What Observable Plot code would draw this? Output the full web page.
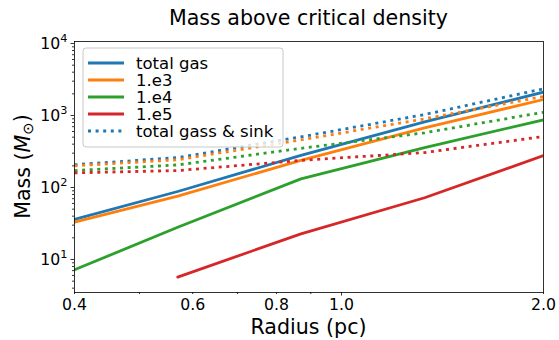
<!DOCTYPE html>
<html><head><meta charset="utf-8">
<script src="https://cdn.jsdelivr.net/npm/d3@7"></script>
<script src="https://cdn.jsdelivr.net/npm/@observablehq/plot@0.6"></script>
<style>body{margin:0;background:#fff} svg{font-family:"DejaVu Sans",sans-serif}</style>
</head><body><div id="chart"></div>
<script>
// ---- data ----
const radius = [0.4, 0.57, 0.87, 1.33, 2.0];
const totalGas = [36, 88, 280, 815, 2110];
const gas1e3 = [33, 76, 238, 675, 1670];
const gas1e4 = [7.2, 28, 132, 359, 870];
const gas1e5 = [null, 5.7, 22.7, 72, 278];
const totalGasSink = [207, 261, 505, 1032, 2350];
const gas1e3Sink = [200, 243, 459, 899, 1840];
const gas1e4Sink = [172, 206, 350, 575, 1110];
const gas1e5Sink = [160, 172, 238, 306, 511];
const seriesNames = ["total gas", "1.e3", "1.e4", "1.e5"];
const seriesColors = ["#1f77b4", "#ff7f0e", "#2ca02c", "#d62728"];
const legendLabels = ["total gas", "1.e3", "1.e4", "1.e5", "total gass & sink"];
const xTickLabels = [0.4, 0.6, 0.8, 1.0, 2.0];
const xMinorTicks = [0.4, 0.5, 0.6, 0.7, 0.8, 0.9, 2.0];
const xMajorTicks = [1.0];
const yMajorTicks = [10, 100, 1000, 10000];
const yMinorTicks = [4,5,6,7,8,9,20,30,40,50,60,70,80,90,200,300,400,500,600,700,800,900,2000,3000,4000,5000,6000,7000,8000,9000];
const titleText = "Mass above critical density";
const xLabelText = "Radius (pc)";

const gasSeries = [totalGas, gas1e3, gas1e4, gas1e5];
const sinkSeries = [totalGasSink, gas1e3Sink, gas1e4Sink, gas1e5Sink];
const gasRows = [], sinkRows = [];
gasSeries.forEach((arr, i) => arr.forEach((m, j) => { if (m != null) gasRows.push({r: radius[j], m, series: seriesNames[i]}); }));
sinkSeries.forEach((arr, i) => arr.forEach((m, j) => { if (m != null) sinkRows.push({r: radius[j], m, series: seriesNames[i]}); }));

const W = 559, H = 340, mL = 74, mR = 16, mT = 41, mB = 48;

const plot = Plot.plot({
  width: W, height: H,
  marginLeft: mL, marginRight: mR, marginTop: mT, marginBottom: mB,
  style: {fontFamily: "DejaVu Sans", fontSize: "15.7px", color: "black", background: "white", overflow: "visible"},
  x: {type: "log", domain: [0.4, 2.0], label: null},
  y: {type: "log", domain: [3.48, 10670], label: null},
  color: {domain: seriesNames, range: seriesColors},
  marks: [
    Plot.line(gasRows, {x: "r", y: "m", z: "series", stroke: "series", strokeWidth: 2.8, clip: true}),
    Plot.line(sinkRows, {x: "r", y: "m", z: "series", stroke: "series", strokeWidth: 2.8, strokeDasharray: "3,4.6", strokeLinecap: "butt", clip: true}),
    Plot.frame({stroke: "black", strokeWidth: 0.8}),
    Plot.axisX({ticks: xMinorTicks, tickSize: 2, tickFormat: () => "", strokeWidth: 0.8, label: null}),
    Plot.axisX({ticks: xMajorTicks, tickSize: 3.5, tickFormat: () => "", strokeWidth: 0.8, label: null}),
    Plot.axisX({ticks: xTickLabels, tickSize: 0, tickPadding: 6, tickFormat: d => d.toFixed(1), fontSize: 15.7, label: null}),
    Plot.axisY({ticks: yMinorTicks, tickSize: 2, tickFormat: () => "", strokeWidth: 0.8, label: null}),
    Plot.axisY({ticks: yMajorTicks, tickSize: 3.5, tickPadding: 3.5, tickFormat: d => "10^" + Math.round(Math.log10(d)), fontSize: 15.7, strokeWidth: 0.8, label: null})
  ]
});
document.getElementById("chart").appendChild(plot);

const svg = d3.select(plot);
// superscripts on y tick labels
svg.selectAll("text").each(function() {
  const t = d3.select(this);
  const s = t.text();
  const m = /^10\^(\d)$/.exec(s);
  if (m) {
    t.text("10");
    t.append("tspan").attr("dy", "-0.55em").attr("font-size", "0.72em").text(m[1]);
  }
});

// title
svg.append("text").attr("x", (mL + W - mR) / 2).attr("y", 18).attr("text-anchor", "middle")
  .attr("dominant-baseline", "central").attr("font-size", 20.6).attr("fill", "black").text(titleText);
// x label
svg.append("text").attr("x", (mL + W - mR) / 2).attr("y", 327).attr("text-anchor", "middle")
  .attr("dominant-baseline", "central").attr("font-size", 20.6).attr("fill", "black").text(xLabelText);
// y label
const yl = svg.append("text").attr("transform", `translate(23,${(mT + H - mB) / 2}) rotate(-90)`)
  .attr("text-anchor", "middle").attr("dominant-baseline", "central").attr("font-size", 20.6).attr("fill", "black");
yl.append("tspan").text("Mass (");
yl.append("tspan").attr("font-style", "italic").text("M");
yl.append("tspan").attr("dy", "0.25em").attr("font-size", "0.72em").text("\u2299");
yl.append("tspan").attr("dy", "-0.25em").text(")");

// legend
const lg = svg.append("g").attr("text-anchor", "start");
lg.append("rect").attr("x", 83).attr("y", 48).attr("width", 200).attr("height", 99).attr("rx", 3)
  .attr("fill", "white").attr("fill-opacity", 0.8).attr("stroke", "#c8c8c8").attr("stroke-width", 1);
legendLabels.forEach((lab, i) => {
  const y = 63 + i * 17;
  const col = seriesColors[i < 4 ? i : 0];
  lg.append("line").attr("x1", 88).attr("x2", 124).attr("y1", y).attr("y2", y)
    .attr("stroke", col).attr("stroke-width", 2.8)
    .attr("stroke-dasharray", i < 4 ? null : "3,4.6");
  lg.append("text").attr("x", 136).attr("y", y).attr("text-anchor", "start").attr("dominant-baseline", "central")
    .attr("font-size", 16.5).attr("fill", "black").text(lab);
});
</script></body></html>
